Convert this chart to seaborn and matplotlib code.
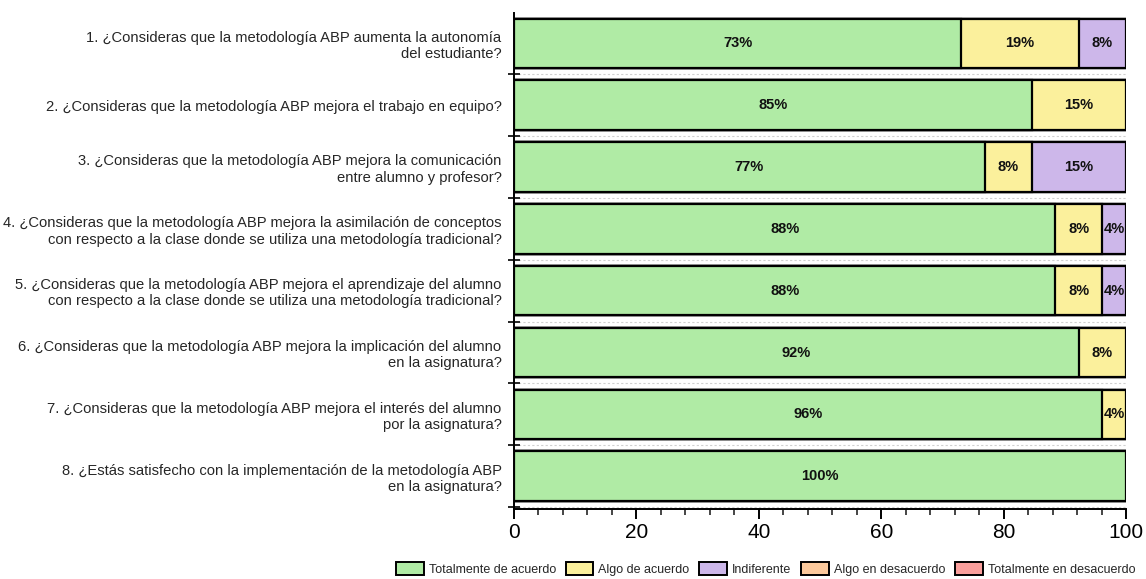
import matplotlib
matplotlib.use("Agg")
import matplotlib.pyplot as plt
import matplotlib.ticker as mticker
from matplotlib.patches import Patch
import seaborn as sns
import numpy as np
import pandas as pd

categories = [
    "1. ¿Consideras que la metodología ABP aumenta la autonomía\ndel estudiante?",
    "2. ¿Consideras que la metodología ABP mejora el trabajo en equipo?",
    "3. ¿Consideras que la metodología ABP mejora la comunicación\nentre alumno y profesor?",
    "4. ¿Consideras que la metodología ABP mejora la asimilación de conceptos\ncon respecto a la clase donde se utiliza una metodología tradicional?",
    "5. ¿Consideras que la metodología ABP mejora el aprendizaje del alumno\ncon respecto a la clase donde se utiliza una metodología tradicional?",
    "6. ¿Consideras que la metodología ABP mejora la implicación del alumno\nen la asignatura?",
    "7. ¿Consideras que la metodología ABP mejora el interés del alumno\npor la asignatura?",
    "8. ¿Estás satisfecho con la implementación de la metodología ABP\nen la asignatura?",
]
series_names = ["Totalmente de acuerdo", "Algo de acuerdo", "Indiferente",
                "Algo en desacuerdo", "Totalmente en desacuerdo"]
totalmente_acuerdo = [73.08, 84.62, 76.92, 88.46, 88.46, 92.31, 96.15, 100.0]
algo_acuerdo = [19.23, 15.38, 7.69, 7.69, 7.69, 7.69, 3.85, 0.0]
indiferente = [7.69, 0.0, 15.38, 3.85, 3.85, 0.0, 0.0, 0.0]
algo_desacuerdo = [0.0, 0.0, 0.0, 0.0, 0.0, 0.0, 0.0, 0.0]
totalmente_desacuerdo = [0.0, 0.0, 0.0, 0.0, 0.0, 0.0, 0.0, 0.0]
colors = ["#b0eba5", "#fbf09c", "#cdb7ea", "#fcc99c", "#fa9f9c"]
x_ticks = [0, 20, 40, 60, 80, 100]

series = [totalmente_acuerdo, algo_acuerdo, indiferente, algo_desacuerdo, totalmente_desacuerdo]

sns.set_style("ticks")
plt.rcParams['font.family'] = ['Liberation Sans', 'DejaVu Sans']

fig = plt.figure(figsize=(11.46, 5.79), dpi=100)
ax = fig.add_axes([514/1146, 1 - 509/579, (1126-514)/1146, (509-13)/579])

arr = np.array(series)
cum = np.cumsum(arr, axis=0)
# draw from the largest cumulative down so shorter layers overlay
for i in range(len(series) - 1, -1, -1):
    df = pd.DataFrame({"cat": categories, "val": cum[i]})
    sns.barplot(data=df, x="val", y="cat", orient="h", color=colors[i],
                edgecolor="black", linewidth=1.6, width=0.8, ax=ax,
                saturation=1, errorbar=None)

# value labels
for i, s in enumerate(series):
    for j, v in enumerate(s):
        if v > 0:
            center = cum[i][j] - v / 2
            ax.text(center, j, f"{round(v)}%", ha="center", va="center",
                    fontsize=10.5, fontweight="bold", color="#111111")

ax.set_xlim(0, 100)
ax.set_ylim(7.53, -0.49)
ax.set_xlabel("")
ax.set_ylabel("")
ax.set_xticks(x_ticks)
ax.xaxis.set_minor_locator(mticker.MultipleLocator(4))
ax.tick_params(axis="x", which="major", direction="out", length=7, width=1.4,
               labelsize=15, pad=3, colors="black")
ax.tick_params(axis="x", which="minor", direction="out", length=4, width=1.2)

ax.set_yticks(range(len(categories)))
ax.set_yticklabels(categories)
ax.yaxis.set_minor_locator(mticker.FixedLocator(np.arange(0.5, 8, 1.0)))
ax.tick_params(axis="y", which="major", length=0, pad=9, labelsize=10.6)
ax.tick_params(axis="y", which="minor", direction="inout", length=8, width=1.4)
for lbl in ax.get_yticklabels():
    lbl.set_multialignment("right")

ax.yaxis.grid(True, which="minor", linestyle=(0, (2, 2)), color="#d0d0d0", linewidth=0.8)
ax.xaxis.grid(False)
ax.set_axisbelow(True)

for sp in ["top", "right"]:
    ax.spines[sp].set_visible(False)
for sp in ["left", "bottom"]:
    ax.spines[sp].set_linewidth(1.4)
    ax.spines[sp].set_color("black")

handles = [Patch(facecolor=c, edgecolor="black", linewidth=1.4) for c in colors]
fig.legend(handles, series_names, loc="lower center", bbox_to_anchor=(0.668, -0.014),
           ncol=5, frameon=False, fontsize=9, handlelength=2.2, handleheight=1.3,
           handletextpad=0.4, columnspacing=0.8)

fig.savefig("out.png", dpi=100, facecolor="white")
